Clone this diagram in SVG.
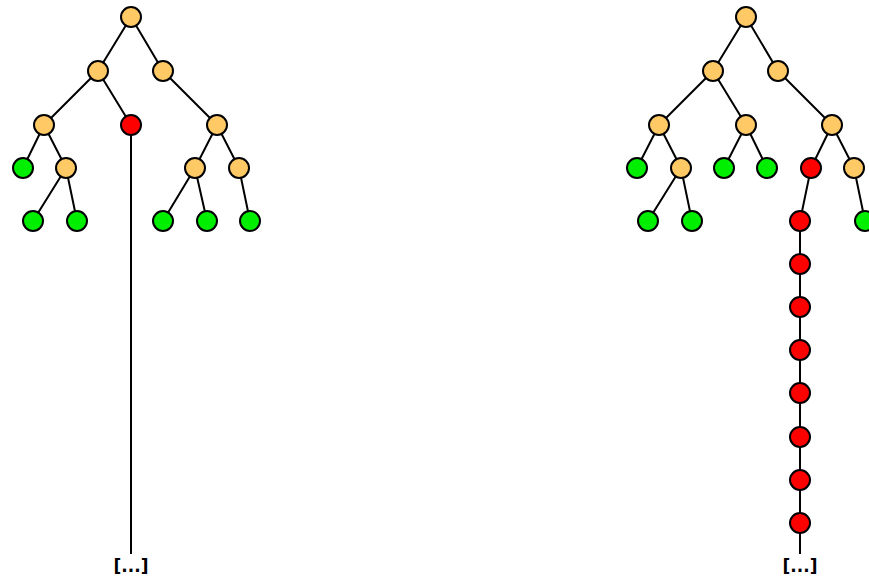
<svg xmlns="http://www.w3.org/2000/svg" width="869" height="578" viewBox="0 0 869 578">
<style>
.e{stroke:#000;stroke-width:2;fill:none}
circle{stroke:#000;stroke-width:2}
.o{fill:#FFC966}
.g{fill:#00EE00}
.r{fill:#FF0000}
text{font-family:"DejaVu Sans",sans-serif;font-weight:bold;font-size:17px;text-anchor:middle}
</style>
<g id="connectors">
<path class="e" d="M131,17L98,71M131,17L163,71M98,71L44,125M98,71L131,125M163,71L217,125M44,125L23,168M44,125L66,168M66,168L33,221M66,168L77,221M217,125L195,168M217,125L239,168M195,168L163,221M195,168L207,221M239,168L250,221M131,125L131,554"/>
<path class="e" d="M746,17L713,71M746,17L778,71M713,71L659,125M713,71L746,125M778,71L832,125M659,125L637,168M659,125L681,168M681,168L648,221M681,168L692,221M746,125L724,168M746,125L767,168M832,125L811,168M832,125L854,168M811,168L800,221M854,168L865,221M800,221L800,554"/>
</g>
<g id="left-tree">
<g id="l-root"><circle class="o" cx="131" cy="17" r="10"/></g>
<g id="l-a"><circle class="o" cx="98" cy="71" r="10"/></g>
<g id="l-b"><circle class="o" cx="163" cy="71" r="10"/></g>
<g id="l-aa"><circle class="o" cx="44" cy="125" r="10"/></g>
<g id="l-ab"><circle class="r" cx="131" cy="125" r="10"/></g>
<g id="l-bb"><circle class="o" cx="217" cy="125" r="10"/></g>
<g id="l-aaa"><circle class="g" cx="23" cy="168" r="10"/></g>
<g id="l-aab"><circle class="o" cx="66" cy="168" r="10"/></g>
<g id="l-bba"><circle class="o" cx="195" cy="168" r="10"/></g>
<g id="l-bbb"><circle class="o" cx="239" cy="168" r="10"/></g>
<g id="l-aaba"><circle class="g" cx="33" cy="221" r="10"/></g>
<g id="l-aabb"><circle class="g" cx="77" cy="221" r="10"/></g>
<g id="l-bbaa"><circle class="g" cx="163" cy="221" r="10"/></g>
<g id="l-bbab"><circle class="g" cx="207" cy="221" r="10"/></g>
<g id="l-bbba"><circle class="g" cx="250" cy="221" r="10"/></g>
<g id="l-more"><text x="131" y="572">[...]</text></g>
</g>
<g id="right-tree">
<g id="r-root"><circle class="o" cx="746" cy="17" r="10"/></g>
<g id="r-a"><circle class="o" cx="713" cy="71" r="10"/></g>
<g id="r-b"><circle class="o" cx="778" cy="71" r="10"/></g>
<g id="r-aa"><circle class="o" cx="659" cy="125" r="10"/></g>
<g id="r-ab"><circle class="o" cx="746" cy="125" r="10"/></g>
<g id="r-bb"><circle class="o" cx="832" cy="125" r="10"/></g>
<g id="r-aaa"><circle class="g" cx="637" cy="168" r="10"/></g>
<g id="r-aab"><circle class="o" cx="681" cy="168" r="10"/></g>
<g id="r-aba"><circle class="g" cx="724" cy="168" r="10"/></g>
<g id="r-abb"><circle class="g" cx="767" cy="168" r="10"/></g>
<g id="r-bba"><circle class="r" cx="811" cy="168" r="10"/></g>
<g id="r-bbb"><circle class="o" cx="854" cy="168" r="10"/></g>
<g id="r-aaba"><circle class="g" cx="648" cy="221" r="10"/></g>
<g id="r-aabb"><circle class="g" cx="692" cy="221" r="10"/></g>
<g id="r-bbba"><circle class="g" cx="865" cy="221" r="10"/></g>
<g id="r-c1"><circle class="r" cx="800" cy="221" r="10"/></g>
<g id="r-c2"><circle class="r" cx="800" cy="264" r="10"/></g>
<g id="r-c3"><circle class="r" cx="800" cy="307" r="10"/></g>
<g id="r-c4"><circle class="r" cx="800" cy="350" r="10"/></g>
<g id="r-c5"><circle class="r" cx="800" cy="393" r="10"/></g>
<g id="r-c6"><circle class="r" cx="800" cy="437" r="10"/></g>
<g id="r-c7"><circle class="r" cx="800" cy="480" r="10"/></g>
<g id="r-c8"><circle class="r" cx="800" cy="523" r="10"/></g>
<g id="r-more"><text x="800" y="572">[...]</text></g>
</g>
</svg>
